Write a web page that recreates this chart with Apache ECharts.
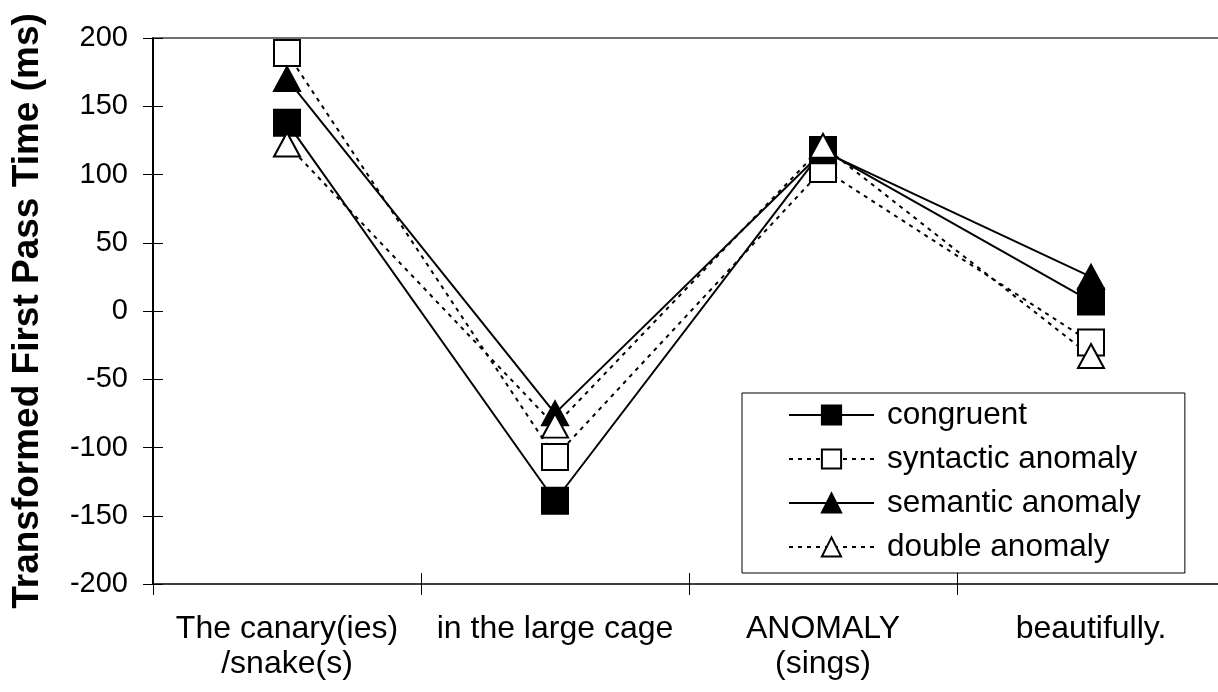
<!DOCTYPE html>
<html>
<head>
<meta charset="utf-8">
<script src="https://cdn.jsdelivr.net/npm/echarts@6/dist/echarts.min.js"></script>
<style>
html,body{margin:0;padding:0;background:#fff;overflow:hidden;}
#chart{width:1226px;height:692px;}
</style>
</head>
<body>
<div id="chart"></div>
<script>
var categories = ['The canary(ies)\n/snake(s)', 'in the large cage', 'ANOMALY\n(sings)', 'beautifully.'];
var seriesNames = ['congruent', 'syntactic anomaly', 'semantic anomaly', 'double anomaly'];
var congruent = [138, -139, 118, 7];
var syntactic = [189, -107, 104, -23];
var semantic = [170, -75, 117, 25];
var doubleAnom = [122, -84, 121, -33];
var yTicks = {min: -200, max: 200, interval: 50};

var FONT = "'Liberation Sans', Arial, sans-serif";
var chart = echarts.init(document.getElementById('chart'), null, {renderer: 'canvas'});

function mkSeries(name, data, symbol, fill, dashed, size) {
  return {
    name: name, type: 'line', data: data, xAxisIndex: 0, yAxisIndex: 0,
    symbol: symbol, symbolSize: size, showAllSymbol: true,
    lineStyle: {color: '#000', width: 2, type: dashed ? [4, 5] : 'solid'},
    itemStyle: {color: fill, borderColor: '#000', borderWidth: 2},
    emphasis: {disabled: true},
    animation: false
  };
}

var option = {
  animation: false,
  grid: {left: 153, width: 1072, top: 38, height: 546, containLabel: false},
  legend: {
    orient: 'vertical', left: 742, top: 393,
    padding: [6, 44, 10, 46],
    backgroundColor: '#fff', borderColor: '#000', borderWidth: 1,
    itemWidth: 85, itemHeight: 24, itemGap: 12,
    textStyle: {fontFamily: FONT, fontSize: 31.5, color: '#000', padding: [0, 0, 0, 8], lineHeight: 30},
    data: seriesNames,
    selectedMode: false
  },
  xAxis: [
    {
      type: 'category', data: categories, position: 'bottom', boundaryGap: true,
      axisLine: {show: true, onZero: false, lineStyle: {color: '#000', width: 1.5}},
      axisTick: {show: true, inside: false, length: 11, interval: 0, lineStyle: {color: '#000', width: 1}},
      axisLabel: {interval: 0, margin: 28, fontFamily: FONT, fontSize: 32, color: '#000', lineHeight: 35},
      splitLine: {show: false}
    },
    {
      type: 'category', data: categories, position: 'bottom', boundaryGap: true,
      axisLine: {show: false, onZero: false},
      axisTick: {show: true, inside: true, length: 11, interval: 0, lineStyle: {color: '#000', width: 1}},
      axisLabel: {show: false}, splitLine: {show: false}
    },
    {
      type: 'category', data: categories, position: 'top', boundaryGap: true,
      axisLine: {show: true, onZero: false, lineStyle: {color: '#444', width: 1.5}},
      axisTick: {show: false}, axisLabel: {show: false}, splitLine: {show: false}
    }
  ],
  yAxis: [
    {
      type: 'value', min: yTicks.min, max: yTicks.max, interval: yTicks.interval, position: 'left',
      name: 'Transformed First Pass Time (ms)', nameLocation: 'middle', nameGap: 107,
      nameTextStyle: {fontFamily: FONT, fontSize: 37, fontWeight: 'bold', color: '#000'},
      axisLine: {show: true, onZero: false, lineStyle: {color: '#000', width: 2}},
      axisTick: {show: true, inside: false, length: 10, lineStyle: {color: '#000', width: 1}},
      axisLabel: {margin: 25, fontFamily: FONT, fontSize: 29, color: '#000'},
      splitLine: {show: false}
    },
    {
      type: 'value', min: yTicks.min, max: yTicks.max, interval: yTicks.interval, position: 'left',
      axisLine: {show: false, onZero: false},
      axisTick: {show: true, inside: true, length: 10, lineStyle: {color: '#000', width: 1}},
      axisLabel: {show: false}, splitLine: {show: false}
    }
  ],
  series: [
    mkSeries(seriesNames[0], congruent, 'rect', '#000', false, 26),
    mkSeries(seriesNames[1], syntactic, 'rect', '#fff', true, 26),
    mkSeries(seriesNames[2], semantic, 'triangle', '#000', false, [26, 24]),
    mkSeries(seriesNames[3], doubleAnom, 'triangle', '#fff', true, [26, 24])
  ]
};
chart.setOption(option);
</script>
</body>
</html>
